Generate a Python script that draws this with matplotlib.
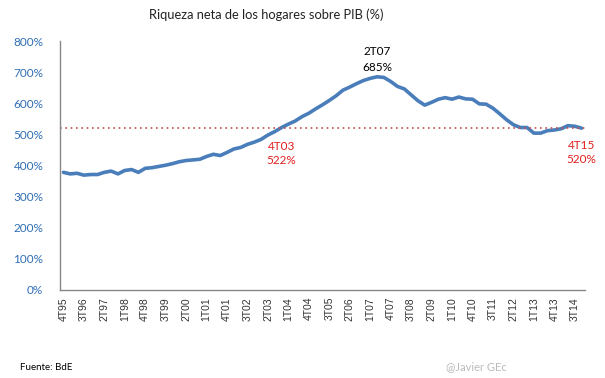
import numpy as np
import matplotlib.pyplot as plt

# Quarterly series 4T95 .. 4T14 (net household wealth / GDP, %)
riqueza = [378, 373, 375, 369, 371, 371, 378, 382, 373, 384,
           387, 378, 391, 393, 397, 401, 406, 412, 416, 418,
           420, 429, 436, 432, 442, 453, 458, 468, 475, 484,
           498, 509, 522, 533, 543, 557, 568, 582, 595, 609,
           624, 642, 652, 663, 673, 680, 685, 683, 670, 654,
           646, 627, 608, 594, 603, 613, 618, 613, 620, 614,
           613, 598, 597, 584, 566, 547, 531, 522, 522, 504,
           504, 512, 514, 518, 528, 526, 520]

# category labels: quarter + two digit year
trimestres = []
q, y = 4, 1995
for _ in range(len(riqueza)):
    trimestres.append(f"{q}T{y % 100:02d}")
    q += 1
    if q > 4:
        q, y = 1, y + 1

nivel_ref = 522
y_ticks = [0, 100, 200, 300, 400, 500, 600, 700, 800]

plt.rcParams['font.family'] = ['Lato', 'DejaVu Sans']

fig = plt.figure(figsize=(6.05, 3.78), dpi=100)
ax = fig.add_axes([60 / 605, 1 - 290 / 378, 525 / 605, 249 / 378])

x = np.arange(len(riqueza))
ax.plot(x, riqueza, color='#4A7EBB', lw=2.6, solid_capstyle='round')
ax.axhline(nivel_ref, color='#C0504D', lw=1.2, ls=(0, (1, 2.2)))

ax.set_xlim(-0.5, len(riqueza) - 0.5)
ax.set_ylim(0, 800)
ax.set_yticks(y_ticks)
ax.set_yticklabels([f"{v}%" for v in y_ticks], color='#2F6EB5', fontsize=8.5)
ax.set_xticks(x[::3])
ax.set_xticklabels(trimestres[::3], rotation=90, fontsize=7.5,
                   family='Liberation Sans', color='#333333')
ax.tick_params(length=0, pad=5)
ax.tick_params(axis='y', pad=12)

for s in ['top', 'right']:
    ax.spines[s].set_visible(False)
for s in ['left', 'bottom']:
    ax.spines[s].set_color('#888888')
    ax.spines[s].set_linewidth(1.0)

# annotations
ax.text(46, 765, "2T07", ha='center', va='center', fontsize=8.5, color='black')
ax.text(46, 714, "685%", ha='center', va='center', fontsize=8.5, color='black')
ax.text(32, 460, "4T03", ha='center', va='center', fontsize=8.5, color='#E02020')
ax.text(32, 417, "522%", ha='center', va='center', fontsize=8.5, color='#E02020')
ax.text(76, 463, "4T15", ha='center', va='center', fontsize=8.5, color='#E02020')
ax.text(76, 419, "520%", ha='center', va='center', fontsize=8.5, color='#E02020')

fig.text(266 / 605, 1 - 15 / 378, "Riqueza neta de los hogares sobre PIB (%)",
         ha='center', va='center', fontsize=9.3, color='#222222')
fig.text(20 / 605, 1 - 367 / 378, "Fuente: BdE", ha='left', va='center',
         fontsize=7, color='black')
fig.text(507 / 605, 1 - 367 / 378, "@Javier GEc", ha='right', va='center',
         fontsize=8, color='#BBBBBB')

fig.savefig("out.png", dpi=100)
